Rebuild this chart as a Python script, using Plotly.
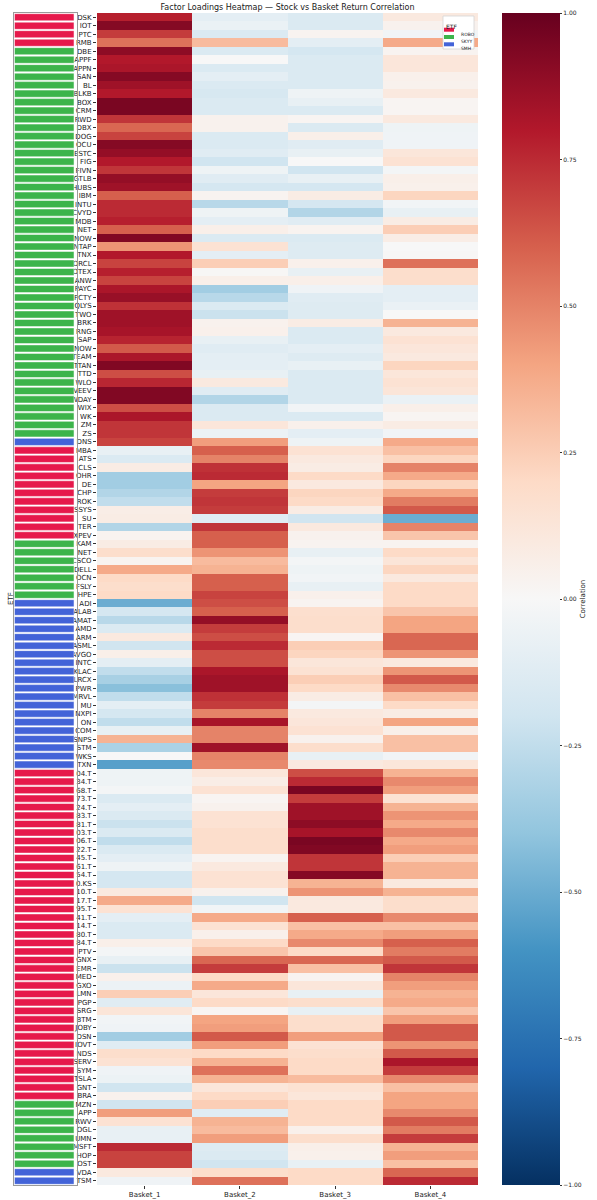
import plotly.graph_objects as go

# ---- data ------------------------------------------------------------------
baskets = ["Basket_1", "Basket_2", "Basket_3", "Basket_4"]

# tick labels as they show in the picture (left part clipped by the ETF strip)
labels = [
    "DSK", "IOT", "PTC", "RMB", "DBE", "APPF", "APPN", "SAN", "BL", "BLKB", "BOX", "CRM", "RWD", "DBX", "DOG", "OCU",
    "ESTC", "FIG", "FIVN", "GTLB", "HUBS", "IBM", "INTU", "CVYD", "MDB", "NET", "NOW", "NTAP", "TNX", "ORCL", "OTEX",
    "ANW", "PAYC", "PCTY", "QLYS", "TWO", "BRK", "RNG", "SAP", "NOW", "TEAM", "TTAN", "TTD", "WLO", "VEEV", "WDAY",
    "WIX", "WK", "ZM", "ZS", "DNS", "MBA", "ATS", "CLS", "OHR", "DE", "CHP", "ROK", "SSYS", "SU", "TER", "XPEV",
    "KAM", "NET", "CSCO", "DELL", "OCN", "FSLY", "HPE", "ADI", "ALAB", "AMAT", "AMD", "ARM", "ASML", "AVGO", "INTC",
    "KLAC", "LRCX", "PWR", "MRVL", "MU", "NXPI", "ON", "COM", "SNPS", "STM", "WKS", "TXN", "04.T", "34.T", "68.T",
    "73.T", "24.T", "83.T", "81.T", "03.T", "06.T", "22.T", "45.T", "61.T", "54.T", "0.KS", "10.T", "17.T", "95.T",
    "41.T", "14.T", "80.T", "84.T", "PTV", "GNX", "EMR", "MED", "GXO", "LMN", "PGP", "SRG", "BTM", "JOBY", "DSN",
    "IOVT", "NDS", "SERV", "SYM", "TSLA", "GNT", "BRA", "MZN", "APP", "RWV", "OGL", "UMN", "MSFT", "HOP", "OST",
    "VDA", "TSM",
]

etf = (
    ["ROBO"] * 4 + ["SKYY"] * 46 + ["SMH"] * 1 + ["ROBO"] * 11 + ["SKYY"] * 7
    + ["SMH"] * 20 + ["ROBO"] * 39 + ["SKYY"] * 8 + ["SMH"] * 2
)

basket_1 = [
    0.78, 0.92, 0.70, 0.55, 0.90, 0.80, 0.82, 0.92, 0.85, 0.80, 0.95, 0.95, 0.72, 0.58, 0.68, 0.92,
    0.88, 0.80, 0.72, 0.88, 0.85, 0.60, 0.75, 0.75, 0.78, 0.60, 0.93, 0.45, 0.80, 0.68, 0.78, 0.68, 0.82, 0.87,
    0.73, 0.85, 0.85, 0.83, 0.77, 0.62, 0.82, 0.93, 0.65, 0.76, 0.93, 0.93, 0.65, 0.82, 0.72, 0.72, 0.68,
    -0.08, -0.15, 0.08, -0.35, -0.35, -0.30, -0.25, 0.07, 0.08, -0.30, 0.03, 0.08, 0.18, 0.03, 0.38, 0.20, 0.18, 0.20,
    -0.50, -0.18, -0.28, -0.15, 0.10, -0.20, 0.06, -0.10, -0.25, -0.33, -0.42, -0.25, -0.10, -0.18, -0.25, -0.08, 0.35, -0.32,
    0.00, -0.55, -0.05, -0.05, -0.02, -0.15, -0.10, -0.15, -0.22, -0.15, -0.25, -0.15, -0.10, -0.05, -0.18, -0.18, 0.10,
    0.38, 0.15, -0.10, -0.15, -0.15, 0.06, -0.02, -0.08, -0.22, 0.05, -0.06, 0.25, -0.12, 0.13, -0.03, -0.04, -0.35, -0.12,
    0.18, 0.15, -0.04, -0.06, -0.20, 0.04, -0.20, 0.42, 0.15, -0.08, -0.08, 0.75, 0.68, 0.68, 0.10, -0.04,
]
basket_2 = [
    -0.10, -0.07, -0.15, 0.32, -0.15, 0.00, -0.15, -0.10, -0.15, -0.17, -0.15, -0.15, 0.04, 0.04, -0.15, -0.15,
    -0.12, -0.20, -0.05, -0.12, -0.18, 0.03, -0.28, -0.05, -0.10, 0.06, -0.15, 0.15, -0.10, 0.25, 0.01, 0.06, -0.35, -0.28,
    -0.15, -0.22, 0.04, 0.05, -0.08, -0.12, -0.10, -0.10, -0.08, 0.10, -0.12, -0.30, -0.15, -0.15, 0.12, -0.06, 0.42,
    0.60, 0.50, 0.73, 0.75, 0.40, 0.70, 0.72, 0.70, -0.12, 0.72, 0.60, 0.60, 0.45, 0.32, 0.35, 0.60, 0.60, 0.68,
    0.65, 0.60, 0.88, 0.70, 0.65, 0.75, 0.65, 0.65, 0.82, 0.85, 0.85, 0.73, 0.70, 0.50, 0.83, 0.50, 0.50, 0.85,
    0.50, 0.48, 0.12, 0.07, 0.15, 0.02, 0.04, 0.15, 0.15, 0.18, 0.18, 0.18, 0.03, 0.10, 0.15, 0.15, 0.04,
    -0.20, -0.03, 0.38, 0.15, 0.05, 0.20, 0.28, 0.58, 0.70, 0.20, 0.38, 0.12, 0.20, 0.02, 0.40, 0.42, 0.62, 0.42,
    0.20, 0.35, 0.55, 0.35, 0.12, 0.20, 0.25, -0.12, 0.35, 0.32, 0.42, -0.13, -0.15, -0.20, 0.18, 0.55,
]
basket_3 = [
    -0.15, -0.15, 0.03, -0.10, -0.18, -0.15, -0.15, -0.15, -0.15, -0.05, -0.08, -0.15, 0.02, -0.15, 0.06, -0.12,
    -0.08, 0.00, -0.20, -0.08, -0.18, 0.08, -0.18, -0.30, -0.12, 0.03, -0.15, -0.13, -0.13, 0.05, -0.08, 0.06, -0.04, -0.12,
    -0.13, -0.13, 0.08, -0.15, -0.15, -0.10, -0.13, -0.08, -0.15, -0.15, -0.15, -0.15, -0.03, -0.15, 0.05, -0.10, -0.05,
    0.15, 0.10, 0.08, 0.20, 0.10, 0.22, 0.20, 0.08, -0.20, 0.10, 0.04, 0.03, -0.08, -0.02, -0.05, -0.03, -0.08, 0.05,
    0.03, 0.17, 0.18, 0.18, 0.02, 0.25, 0.22, 0.12, 0.15, 0.25, 0.20, 0.08, -0.02, 0.10, 0.12, 0.15, 0.04, 0.18,
    -0.08, 0.10, 0.65, 0.75, 0.95, 0.70, 0.85, 0.85, 0.90, 0.83, 0.95, 0.93, 0.72, 0.72, 0.92, 0.35, 0.45,
    0.10, 0.10, 0.60, 0.30, 0.38, 0.48, 0.20, 0.58, 0.30, 0.03, 0.12, -0.08, 0.18, -0.08, 0.18, 0.18, 0.42, 0.15,
    0.18, 0.20, 0.20, 0.32, 0.15, 0.12, 0.20, 0.20, 0.20, 0.05, 0.18, 0.06, 0.05, -0.08, 0.20, 0.20,
]
basket_4 = [
    0.10, 0.04, -0.03, 0.38, 0.03, 0.12, 0.12, 0.05, 0.04, 0.10, 0.02, 0.02, 0.10, -0.05, -0.04, -0.04,
    0.12, 0.15, -0.02, 0.06, 0.05, 0.22, -0.03, -0.08, 0.08, 0.25, 0.07, 0.00, 0.01, 0.55, 0.18, 0.18, -0.10, -0.10,
    -0.07, 0.00, 0.35, 0.10, 0.15, 0.12, 0.10, 0.22, 0.12, 0.15, 0.13, -0.07, 0.06, 0.02, 0.08, -0.03, 0.38,
    0.30, 0.22, 0.50, 0.38, 0.22, 0.38, 0.52, 0.62, -0.50, 0.50, 0.28, 0.03, 0.20, 0.13, 0.22, 0.10, 0.20, 0.20,
    0.20, 0.28, 0.40, 0.40, 0.58, 0.58, 0.45, 0.10, 0.45, 0.62, 0.48, 0.30, 0.20, 0.08, 0.40, 0.06, 0.30, 0.30,
    -0.03, 0.12, 0.35, 0.48, 0.42, 0.15, 0.35, 0.45, 0.38, 0.48, 0.38, 0.42, 0.25, 0.35, 0.35, 0.10, 0.35,
    0.18, 0.18, 0.48, 0.30, 0.42, 0.60, 0.52, 0.62, 0.72, 0.50, 0.42, 0.35, 0.38, 0.28, 0.42, 0.62, 0.62, 0.45,
    0.62, 0.82, 0.70, 0.48, 0.30, 0.40, 0.40, 0.48, 0.62, 0.52, 0.70, 0.35, 0.42, 0.30, 0.58, 0.75,
]

etf_colors = {"ROBO": "#e6194b", "SKYY": "#3cb44b", "SMH": "#4363d8"}

# matplotlib RdBu_r
rdbu_r = [
    [0.0, "rgb(5,48,97)"], [0.1, "rgb(33,102,172)"], [0.2, "rgb(67,147,195)"],
    [0.3, "rgb(146,197,222)"], [0.4, "rgb(209,229,240)"], [0.5, "rgb(247,247,247)"],
    [0.6, "rgb(253,219,199)"], [0.7, "rgb(244,165,130)"], [0.8, "rgb(214,96,77)"],
    [0.9, "rgb(178,24,43)"], [1.0, "rgb(103,0,31)"],
]

# ---- figure ---------------------------------------------------------------
W, H = 597, 1200
TOP, BOT = 13, 15
PH = H - TOP - BOT
INK = "#1a1a1a"


def px_x(p):
    return p / W


def px_y(p):
    return 1 - (p - TOP) / PH


rows = list(range(len(labels)))
z = [list(v) for v in zip(basket_1, basket_2, basket_3, basket_4)]

fig = go.Figure()

fig.add_trace(go.Heatmap(
    z=z, x=baskets, y=rows,
    xaxis="x", yaxis="y",
    colorscale=rdbu_r, zmin=-1, zmax=1,
    showlegend=False,
    colorbar=dict(
        x=px_x(502), xanchor="left", xpad=0,
        y=0.5, yanchor="middle", ypad=0,
        len=1, lenmode="fraction",
        thickness=58, thicknessmode="pixels",
        outlinewidth=0,
        tickvals=[-1, -0.75, -0.5, -0.25, 0, 0.25, 0.5, 0.75, 1],
        tickformat=".2f",
        ticks="outside", ticklen=2.5, tickcolor="#333",
        tickfont=dict(size=6, color=INK),
        title=dict(text="Correlation", side="right", font=dict(size=7, color=INK)),
    ),
))

# ETF colour strip
for name, color in etf_colors.items():
    idx = [i for i, e in enumerate(etf) if e == name]
    fig.add_trace(go.Bar(
        x=[1] * len(idx), y=idx, orientation="h",
        width=0.84,
        marker=dict(color=color, line=dict(color="white", width=0.5)),
        name=name, xaxis="x2", yaxis="y2", showlegend=False,
    ))

# small legend box in the top right corner of the heatmap
shapes = [dict(
    type="rect", xref="paper", yref="paper",
    x0=px_x(443), x1=px_x(474), y0=px_y(16), y1=px_y(49),
    fillcolor="white", line=dict(color="#d4d4d4", width=0.8), layer="above",
)]
annotations = [
    dict(text="ETF", x=px_x(458.5), y=px_y(21), xref="paper", yref="paper",
         showarrow=False, font=dict(size=6, color=INK)),
    dict(text="ETF", x=px_x(5), y=0.5, xref="paper", yref="paper",
         textangle=-90, showarrow=False, font=dict(size=7, color=INK)),
]
for k, (name, color) in enumerate(etf_colors.items()):
    yc = 29.7 + 7.3 * k
    shapes.append(dict(
        type="rect", xref="paper", yref="paper",
        x0=px_x(444), x1=px_x(454), y0=px_y(yc + 2), y1=px_y(yc - 2),
        fillcolor=color, line=dict(width=0), layer="above",
    ))
    annotations.append(dict(
        text=name, x=px_x(458.5), y=px_y(yc), xref="paper", yref="paper",
        xanchor="left", showarrow=False, font=dict(size=4.5, color=INK),
    ))

fig.update_layout(
    width=W, height=H,
    margin=dict(l=0, r=0, t=TOP, b=BOT),
    paper_bgcolor="white", plot_bgcolor="white",
    font=dict(family="DejaVu Sans", color=INK),
    barmode="overlay",
    showlegend=False,
    hovermode=False,
    title=dict(
        text="Factor Loadings Heatmap — Stock vs Basket Return Correlation",
        x=px_x(287.5), xanchor="center", xref="paper",
        y=1 - 7.5 / H, yanchor="middle", yref="container",
        font=dict(size=8, color=INK),
    ),
    xaxis=dict(
        domain=[px_x(97), px_x(478)], anchor="y",
        ticks="outside", ticklen=3, tickcolor="#333",
        tickfont=dict(size=7, color=INK), showgrid=False, zeroline=False,
        automargin=False,
    ),
    yaxis=dict(
        domain=[0, 1], anchor="x",
        range=[len(labels) - 0.5, -0.5],
        tickvals=rows, ticktext=labels,
        ticks="outside", ticklen=3, tickcolor="#333",
        tickfont=dict(size=7, color=INK), showgrid=False, zeroline=False,
        automargin=False,
    ),
    xaxis2=dict(
        domain=[px_x(13.5), px_x(77)], anchor="y2",
        range=[-0.0167, 1.05],
        showticklabels=False, ticks="", showgrid=False, zeroline=False,
        showline=True, mirror=True, linecolor="#9a9a9a", linewidth=1.2,
    ),
    yaxis2=dict(
        domain=[0, 1], anchor="x2",
        range=[len(labels) - 0.5, -0.5],
        showticklabels=False, ticks="", showgrid=False, zeroline=False,
        showline=True, mirror=True, linecolor="#9a9a9a", linewidth=1.2,
    ),
    shapes=shapes,
    annotations=annotations,
)

# the page's default 8px body margin would shift the whole figure
fig.write_html(
    "out.html",
    config={"displayModeBar": False},
    post_script="document.body.style.margin='0px';",
)
